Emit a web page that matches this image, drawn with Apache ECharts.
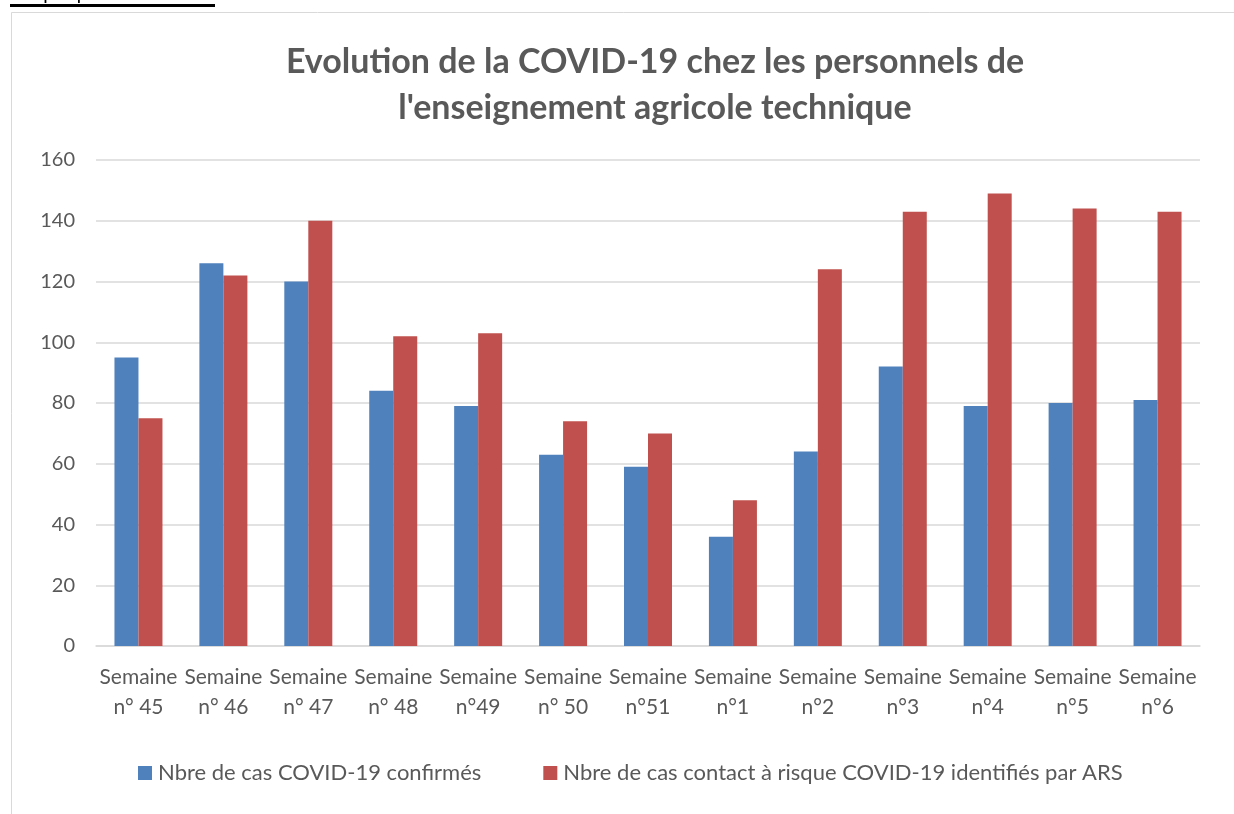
<!DOCTYPE html>
<html><head><meta charset="utf-8">
<script src="https://cdn.jsdelivr.net/npm/echarts@6/dist/echarts.min.js"></script>
<style>html,body{margin:0;padding:0;background:#fff}#c{width:1234px;height:814px}</style>
</head><body><div id="c"></div>
<script>
const categories = ["Semaine\nn° 45","Semaine\nn° 46","Semaine\nn° 47","Semaine\nn° 48","Semaine\nn°49","Semaine\nn° 50","Semaine\nn°51","Semaine\nn°1","Semaine\nn°2","Semaine\nn°3","Semaine\nn°4","Semaine\nn°5","Semaine\nn°6"];
const confirmes = [95,126,120,84,79,63,59,36,64,92,79,80,81];
const contacts = [75,122,140,102,103,74,70,48,124,143,149,144,143];
const seriesNames = ["Nbre de cas COVID-19 confirmés","Nbre de cas contact à risque COVID-19 identifiés par ARS"];
const titleText = "Evolution de la COVID-19 chez les personnels de\nl'enseignement agricole technique";
const font = "Lato, 'Open Sans', sans-serif";
const chart = echarts.init(document.getElementById('c'), null, {renderer:'canvas'});
chart.setOption({
  animation:false,
  backgroundColor:'#fff',
  title:{text:titleText,left:650,top:34,textAlign:'center',
    textStyle:{fontFamily:font,fontWeight:'bold',fontSize:34,color:'#595959',lineHeight:46}},
  graphic:[
    {type:'rect',shape:{x:11.5,y:12.5,width:1240,height:820},style:{fill:'none',stroke:'#d9d9d9',lineWidth:1},silent:true},
    {type:'text',left:10,top:-17,style:{text:'Graphique n°24',font:"20px 'Liberation Sans', Arial, sans-serif",fill:'#000'}},
    {type:'rect',shape:{x:10,y:4,width:205,height:3},style:{fill:'#000'}}
  ],
  legend:{data:seriesNames,top:757,left:133,itemGap:62,itemWidth:14,itemHeight:14,icon:'rect',
    textStyle:{fontFamily:font,fontSize:22,color:'#595959',padding:[0,0,0,1]}},
  grid:{left:96,right:34,top:160,bottom:168,containLabel:false},
  xAxis:{type:'category',data:categories,
    axisLine:{lineStyle:{color:'#d9d9d9',width:1.5}},axisTick:{show:false},
    axisLabel:{interval:0,fontFamily:font,fontSize:21,color:'#595959',lineHeight:30,margin:16}},
  yAxis:{type:'value',min:0,max:160,interval:20,
    axisLine:{show:false},axisTick:{show:false},
    splitLine:{lineStyle:{color:'#d9d9d9',width:1.5}},
    axisLabel:{fontFamily:font,fontSize:20,color:'#595959',margin:21}},
  series:[
    {name:seriesNames[0],type:'bar',data:confirmes,barWidth:24,barGap:'0%',itemStyle:{color:'#4F81BD'}},
    {name:seriesNames[1],type:'bar',data:contacts,barWidth:24,barGap:'0%',itemStyle:{color:'#C0504D'}}
  ]
});
</script></body></html>
